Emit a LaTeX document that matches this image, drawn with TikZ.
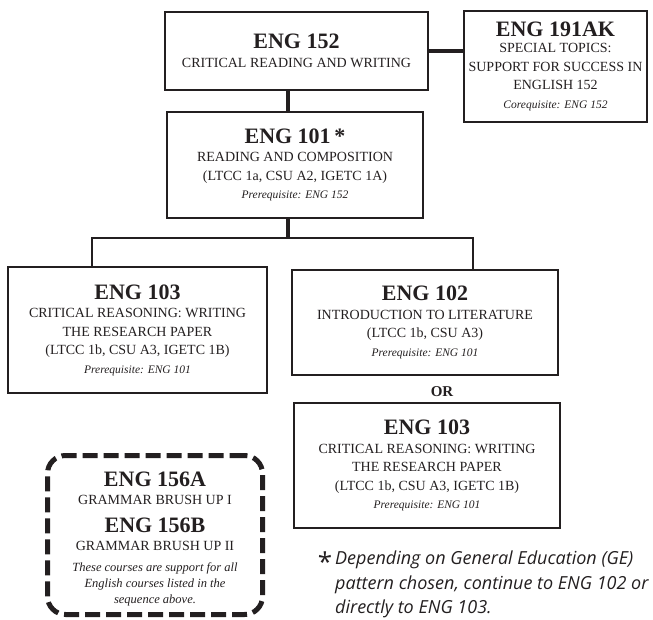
\documentclass[tikz,border=0pt]{standalone}
\usepackage{fontspec}
\setmainfont{Liberation Serif}
\newfontfamily\notefont{Open Sans}
\usetikzlibrary{calc}
\definecolor{ink}{HTML}{231F20}
\newcommand\crstitle[1]{{\fontsize{22}{22}\selectfont\bfseries #1}}
\newcommand\crspre[1]{{\fontsize{11.5}{14}\selectfont\itshape #1}}
\newcommand\crsnote[1]{{\fontsize{12.5}{15}\selectfont\itshape #1}}
\tikzset{
  course/.style={draw=ink, line width=1.5pt, text=ink, align=center, inner sep=0pt,
                 font=\fontsize{14}{18.5}\selectfont},
  plaintext/.style={text=ink, align=center, inner sep=0pt, font=\fontsize{14}{18.5}\selectfont},
  thickconn/.style={draw=ink, line width=4pt},
  thinconn/.style={draw=ink, line width=2pt},
  dashbox/.style={draw=ink, line width=5pt, dash pattern=on 15pt off 6pt, rounded corners=18pt},
}
\begin{document}
\begin{tikzpicture}[x=1pt,y=-1pt]
\useasboundingbox (0,0) rectangle (653,620);

% course boxes
\node[course, minimum width=263pt, minimum height=78pt] (e152) at (296.5,51)
  {\crstitle{ENG 152}\\[0pt] CRITICAL READING AND WRITING};
\node[course, minimum width=183pt, minimum height=111pt] (e191) at (555.5,66.5)
  {\crstitle{ENG 191AK}\\[-2.5pt] SPECIAL TOPICS:\\ SUPPORT FOR SUCCESS IN\\ ENGLISH 152\\ \crspre{Corequisite: ENG 152}};
\node[course, minimum width=256pt, minimum height=106pt] (e101) at (295,165)
  {\crstitle{ENG 101\,*}\\[0pt] READING AND COMPOSITION\\ (LTCC 1a, CSU A2, IGETC 1A)\\ \crspre{Prerequisite: ENG 152}};
\node[course, minimum width=259pt, minimum height=126pt] (e103a) at (137.5,330)
  {\crstitle{ENG 103}\\[0pt] CRITICAL REASONING: WRITING\\ THE RESEARCH PAPER\\ (LTCC 1b, CSU A3, IGETC 1B)\\ \crspre{Prerequisite: ENG 101}};
\node[course, minimum width=266pt, minimum height=105pt] (e102) at (425,322.5)
  {\crstitle{ENG 102}\\[0pt] INTRODUCTION TO LITERATURE\\ (LTCC 1b, CSU A3)\\ \crspre{Prerequisite: ENG 101}};
\node[plaintext, font=\fontsize{15}{15}\selectfont\bfseries] (or) at (442,392) {OR};
\node[course, minimum width=266pt, minimum height=125pt] (e103b) at (427,465.5)
  {\crstitle{ENG 103}\\[0pt] CRITICAL REASONING: WRITING\\ THE RESEARCH PAPER\\ (LTCC 1b, CSU A3, IGETC 1B)\\ \crspre{Prerequisite: ENG 101}};

% support box
\node[dashbox, minimum width=215pt, minimum height=159pt] (d156) at (155,535) {};
\node[plaintext] (t156) at (155,539)
  {\crstitle{ENG 156A}\\[0pt] GRAMMAR BRUSH UP I\\[9pt] \crstitle{ENG 156B}\\[0pt] GRAMMAR BRUSH UP II\\[2pt]
   \crsnote{These courses are support for all}\\[-2pt] \crsnote{English courses listed in the}\\[-3pt] \crsnote{sequence above.}};

% footnote
\node[inner sep=0pt, text=ink, font=\notefont\fontsize{26}{26}\selectfont] (ast) at (325,562) {*};
\node[anchor=north west, inner sep=0pt, align=left, text=ink,
      font=\notefont\itshape\fontsize{18}{24.5}\selectfont] (note) at (335,551)
  {Depending on General Education (GE)\\ pattern chosen, continue to ENG 102 or\\ directly to ENG 103.};

% connectors
\coordinate (trunk) at (288,238);
\coordinate (barL) at (92,238);
\coordinate (barR) at (473,238);
\draw[thickconn] (e152.east) -- (e152.east -| e191.west);
\draw[thickconn] (trunk |- e152.south) -- (trunk |- e101.north);
\draw[thickconn] (trunk |- e101.south) -- (trunk);
\draw[thinconn] (barL |- e103a.north) -- (barL) -- (barR) -- (barR |- e102.north);
\end{tikzpicture}
\end{document}
